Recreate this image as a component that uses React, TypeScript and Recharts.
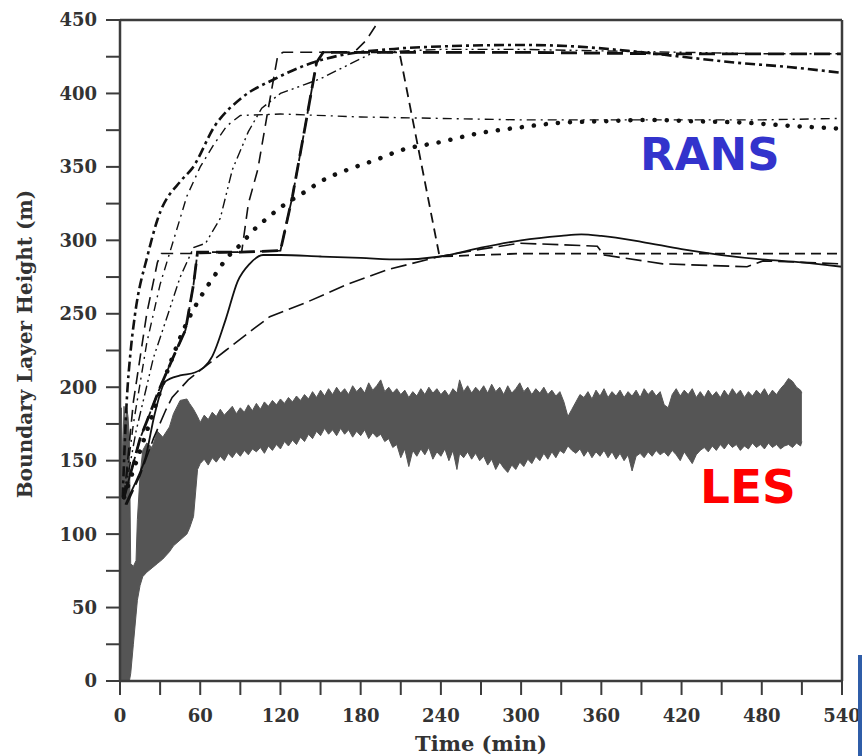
import { ComposedChart, Line, Area, XAxis, YAxis } from "recharts";

type Pt = [number, number];

const timeTicks = [0, 30, 60, 90, 120, 150, 180, 210, 240, 270, 300, 330, 360, 390, 420, 450, 480, 510, 540];
const heightTicks = [0, 25, 50, 75, 100, 125, 150, 175, 200, 225, 250, 275, 300, 325, 350, 375, 400, 425, 450];

// RANS runs, [time (min), height (m)]
const solid: Pt[] = [
  [4, 120], [8, 128], [13, 138], [19, 152], [26, 182], [34, 204], [45, 208], [56, 210], [69, 221],
  [79, 246], [88, 272], [97, 284], [107, 290], [120, 290], [150, 289], [180, 288], [210, 287],
  [240, 289], [270, 295], [300, 300], [330, 303], [345, 304], [360, 303], [390, 299], [420, 294],
  [450, 290], [480, 287], [510, 285], [540, 282],
];

const longDash: Pt[] = [
  [5, 120], [15, 140], [25, 165], [34, 184], [39, 193], [51, 205], [65, 215], [79, 225], [96, 237],
  [112, 248], [140, 258], [170, 270], [200, 280], [239, 289], [270, 294], [299, 298], [330, 297],
  [357, 296], [362, 290], [406, 284], [469, 282], [481, 286], [510, 285], [540, 284],
];

const boldDashDot: Pt[] = [
  [2, 125], [5, 190], [8, 225], [11, 248], [21, 291], [28, 314], [46, 341], [54, 349], [71, 378],
  [91, 397], [116, 410], [138, 419], [165, 426], [200, 430], [240, 432], [300, 433], [340, 432],
  [380, 429], [420, 425], [460, 421], [500, 418], [540, 414],
];

const dashDot: Pt[] = [
  [3, 125], [10, 175], [20, 230], [30, 270], [40, 300], [50, 330], [60, 350], [70, 365], [80, 378],
  [90, 385], [120, 386], [180, 384], [240, 383], [300, 382], [360, 382], [420, 382], [480, 382], [540, 383],
];

const dashDotDot: Pt[] = [
  [3, 125], [12, 170], [25, 220], [36, 250], [45, 275], [55, 295], [64, 298], [75, 315], [84, 348],
  [96, 374], [106, 390], [120, 400], [138, 406], [150, 410], [174, 421], [190, 428], [240, 430],
  [300, 430], [360, 429], [420, 428], [480, 427], [540, 427],
];

const thinDash: Pt[] = [
  [3, 125], [10, 190], [20, 250], [28, 285], [31, 291], [60, 291], [91, 292], [96, 325], [103, 348],
  [110, 385], [118, 426], [122, 428], [150, 428], [175, 428], [184, 436], [194, 450],
];

const boldDash: Pt[] = [
  [3, 125], [15, 165], [30, 200], [42, 225], [49, 239], [55, 270], [58, 292], [90, 292], [120, 293],
  [129, 330], [138, 375], [147, 421], [152, 428], [200, 428], [300, 428], [400, 427], [540, 427],
];

const stepDash: Pt[] = [
  [3, 125], [15, 165], [30, 200], [42, 225], [49, 239], [55, 270], [58, 292], [90, 292], [120, 293],
  [129, 330], [138, 375], [147, 421], [152, 428], [180, 428], [209, 428], [239, 289], [300, 291],
  [360, 291], [420, 291], [480, 291], [540, 291],
];

const dotted: Pt[] = [
  [3, 125], [20, 170], [35, 210], [50, 244], [60, 261], [70, 275], [80, 288], [90, 297], [100, 307],
  [110, 315], [121, 323], [140, 334], [150, 340], [170, 348], [192, 355], [209, 361], [240, 367],
  [269, 373], [300, 377], [329, 380], [360, 381], [394, 382], [430, 381], [469, 380], [500, 378], [540, 376],
];

// LES envelope: [time, low, high]
const les: [number, number, number][] = [
  [0, 0, 60], [1, 0, 186], [2, 0, 150], [3, 0, 187], [4, 0, 175], [5, 0, 186], [6, 0, 180], [7, 0, 165],
  [8, 5, 80], [10, 25, 78], [12, 45, 82], [13, 55, 110], [15, 65, 140], [17, 71, 157], [20, 74, 162],
  [24, 77, 159], [28, 80, 170], [32, 83, 166], [37, 88, 173], [40, 92, 182], [45, 96, 191], [50, 100, 192],
  [52, 104, 189], [55, 112, 185], [58, 144, 180],
  [60, 148, 176], [63, 151, 181], [66, 147, 178], [69, 152, 183], [72, 149, 180], [75, 153, 185],
  [78, 150, 181], [81, 155, 184], [84, 152, 187], [87, 156, 182], [90, 153, 186], [93, 157, 183],
  [96, 154, 188], [99, 158, 184], [102, 156, 189], [105, 159, 185], [108, 155, 190], [111, 160, 187],
  [114, 157, 191], [117, 161, 188], [120, 158, 192], [123, 163, 189], [126, 160, 193], [129, 164, 190],
  [132, 161, 194], [135, 166, 191], [138, 163, 195], [141, 168, 192], [144, 165, 197], [147, 170, 193],
  [150, 167, 198], [153, 172, 194], [156, 168, 199], [159, 171, 195], [162, 167, 200], [165, 172, 196],
  [168, 168, 199], [171, 171, 195], [174, 166, 201], [177, 170, 197], [180, 167, 200], [183, 171, 196],
  [186, 165, 203], [189, 169, 198], [192, 166, 201], [195, 168, 205], [198, 163, 197], [201, 165, 200],
  [204, 159, 196], [207, 161, 199], [210, 152, 195], [213, 158, 198], [216, 146, 193], [219, 157, 197],
  [222, 153, 194], [225, 158, 199], [228, 154, 195], [231, 159, 200], [234, 151, 196], [237, 156, 199],
  [240, 153, 195], [243, 158, 198], [246, 150, 194], [249, 157, 199], [252, 144, 196], [254, 155, 205],
  [257, 152, 197], [260, 156, 201], [263, 151, 196], [266, 155, 200], [269, 150, 197], [272, 153, 201],
  [275, 147, 196], [278, 151, 202], [281, 144, 197], [284, 149, 200], [287, 145, 195], [290, 142, 201],
  [293, 147, 196], [296, 144, 199], [299, 149, 203], [302, 146, 197], [305, 151, 200], [308, 148, 195],
  [311, 153, 199], [314, 150, 196], [317, 155, 200], [320, 151, 195], [323, 156, 198], [326, 152, 194],
  [329, 157, 197], [332, 155, 190], [335, 160, 180], [338, 157, 185], [341, 155, 190], [344, 158, 195],
  [347, 153, 193], [350, 157, 197], [353, 152, 192], [356, 156, 198], [359, 153, 194], [362, 157, 199],
  [365, 152, 193], [368, 156, 197], [371, 151, 194], [374, 155, 198], [377, 150, 193], [380, 154, 197],
  [383, 143, 194], [386, 153, 198], [389, 155, 193], [392, 152, 199], [395, 156, 195], [398, 153, 198],
  [401, 157, 194], [404, 154, 197], [407, 156, 188], [410, 153, 186], [413, 157, 195], [416, 154, 199],
  [419, 150, 194], [422, 156, 198], [425, 152, 195], [428, 148, 199], [431, 154, 193], [434, 157, 197],
  [437, 159, 193], [440, 156, 198], [443, 160, 194], [446, 157, 197], [449, 161, 193], [452, 158, 198],
  [455, 162, 194], [458, 159, 199], [461, 161, 195], [464, 157, 198], [467, 160, 193], [470, 158, 197],
  [473, 162, 194], [476, 159, 198], [479, 161, 195], [482, 158, 199], [485, 162, 194], [488, 159, 198],
  [491, 161, 195], [494, 158, 199], [497, 160, 202], [500, 161, 206], [503, 159, 204], [506, 162, 200],
  [509, 160, 198], [510, 163, 196],
];

const toData = (pts: Pt[]) => pts.map(([x, y]) => ({ x, y }));
const lesData = les.map(([x, lo, hi]) => ({ x, range: [lo, hi] }));

const lines = [
  { name: "solid", pts: solid, dash: undefined, w: 1.8, type: "monotone" },
  { name: "longDash", pts: longDash, dash: "16 6", w: 1.6, type: "linear" },
  { name: "boldDashDot", pts: boldDashDot, dash: "10 4 3 4", w: 2.6, type: "monotone" },
  { name: "dashDot", pts: dashDot, dash: "9 5 2 5", w: 1.4, type: "linear" },
  { name: "dashDotDot", pts: dashDotDot, dash: "10 4 2 4 2 4", w: 1.4, type: "linear" },
  { name: "thinDash", pts: thinDash, dash: "12 7", w: 1.6, type: "linear" },
  { name: "boldDash", pts: boldDash, dash: "16 7", w: 2.8, type: "linear" },
  { name: "stepDash", pts: stepDash, dash: "10 6", w: 1.8, type: "linear" },
];

const FRAME = "#3c3c3c";
const tickFont = { fontFamily: "DejaVu Serif", fontWeight: 700, fontSize: 18, fill: "#333" };

export default function App() {
  return (
    <div style={{ position: "absolute", left: 0, top: 0, width: 863, height: 756, background: "#fff" }}>
      <ComposedChart width={863} height={756} margin={{ top: 0, right: 0, bottom: 0, left: 0 }}>
        <XAxis
          xAxisId="b"
          dataKey="x"
          type="number"
          domain={[0, 540]}
          ticks={timeTicks}
          height={75}
          tickSize={14}
          tickMargin={14}
          tickFormatter={(v: number) => (v % 60 === 0 ? String(v) : "")}
          tick={tickFont}
          axisLine={{ stroke: FRAME, strokeWidth: 2.5 }}
          tickLine={{ stroke: FRAME, strokeWidth: 2 }}
          interval={0}
          allowDataOverflow
        />
        <XAxis
          xAxisId="t"
          orientation="top"
          dataKey="x"
          type="number"
          domain={[0, 540]}
          ticks={timeTicks}
          height={20}
          tickSize={13}
          tick={false}
          axisLine={{ stroke: FRAME, strokeWidth: 2.5 }}
          tickLine={{ stroke: FRAME, strokeWidth: 2 }}
          interval={0}
          allowDataOverflow
        />
        <YAxis
          yAxisId="l"
          type="number"
          domain={[0, 450]}
          ticks={heightTicks}
          width={120}
          tickSize={14}
          tickMargin={9}
          tickFormatter={(v: number) => (v % 50 === 0 ? String(v) : "")}
          tick={tickFont}
          axisLine={{ stroke: FRAME, strokeWidth: 2.5 }}
          tickLine={{ stroke: FRAME, strokeWidth: 2 }}
          interval={0}
          allowDataOverflow
        />
        <YAxis
          yAxisId="r"
          orientation="right"
          type="number"
          domain={[0, 450]}
          ticks={heightTicks}
          width={21}
          tickSize={13}
          tick={false}
          axisLine={{ stroke: FRAME, strokeWidth: 2.5 }}
          tickLine={{ stroke: FRAME, strokeWidth: 2 }}
          interval={0}
          allowDataOverflow
        />
        <Area
          xAxisId="b"
          yAxisId="l"
          data={lesData}
          dataKey="range"
          type="linear"
          stroke="#555"
          strokeWidth={1}
          fill="#555"
          fillOpacity={1}
          isAnimationActive={false}
        />
        {lines.map((s) => (
          <Line
            key={s.name}
            xAxisId="b"
            yAxisId="l"
            data={toData(s.pts)}
            dataKey="y"
            type={s.type as "linear" | "monotone"}
            stroke="#111"
            strokeWidth={s.w}
            strokeDasharray={s.dash}
            dot={false}
            isAnimationActive={false}
          />
        ))}
        <Line
          xAxisId="b"
          yAxisId="l"
          data={toData(dotted)}
          dataKey="y"
          type="monotone"
          stroke="#111"
          strokeWidth={4.5}
          strokeLinecap="round"
          strokeDasharray="0.1 12"
          dot={false}
          isAnimationActive={false}
        />
      </ComposedChart>
      <svg width={863} height={756} style={{ position: "absolute", left: 0, top: 0, pointerEvents: "none" }}>
        <text
          x={32}
          y={344}
          transform="rotate(-90, 32, 344)"
          textAnchor="middle"
          fontFamily="DejaVu Serif"
          fontWeight={700}
          fontSize={20}
          fill="#333"
        >
          Boundary Layer Height (m)
        </text>
        <text x={481} y={751} textAnchor="middle" fontFamily="DejaVu Serif" fontWeight={700} fontSize={21} fill="#333">
          Time (min)
        </text>
        <text x={640} y={170} fontFamily="DejaVu Sans" fontWeight={700} fontSize={45} fill="#3333cc">
          RANS
        </text>
        <text x={700} y={503} fontFamily="DejaVu Sans" fontWeight={700} fontSize={47} fill="#ff0000">
          LES
        </text>
        <rect x={858} y={655} width={4} height={101} fill="#2f5da8" />
      </svg>
    </div>
  );
}
